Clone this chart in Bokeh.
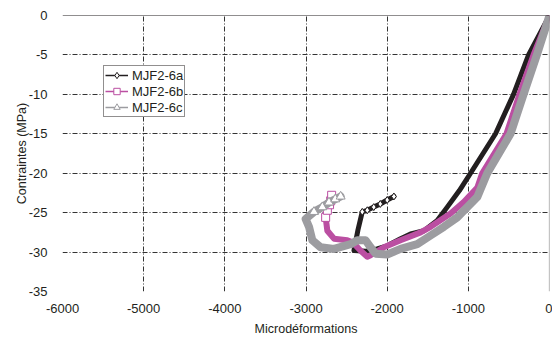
from bokeh.plotting import figure
from bokeh.models import FixedTicker, Span, Legend, LegendItem, Range1d
from bokeh.embed import file_html
from bokeh.resources import INLINE

# ---- data ----
x_ticks = [-6000, -5000, -4000, -3000, -2000, -1000, 0]
x_tick_labels = ["-6000", "-5000", "-4000", "-3000", "-2000", "-1000", "0"]
y_ticks = [-35, -30, -25, -20, -15, -10, -5, 0]
y_tick_labels = ["-35", "-30", "-25", "-20", "-15", "-10", "-5", "0"]

names = ["MJF2-6a", "MJF2-6b", "MJF2-6c"]

strain_a = [0, -258, -443, -665, -973, -1110, -1260, -1383, -1547, -1712, -1835, -2000,
            -2124, -2260, -2409, -2360, -2307, -2245, -2165, -2085, -2000, -1917]
stress_a = [0, -5, -10, -15, -20, -22.2, -24.3, -26.0, -27.3, -27.7, -28.3, -29.2,
            -29.6, -29.9, -29.8, -27.2, -24.9, -24.7, -24.3, -23.9, -23.4, -22.95]

strain_b = [0, -197, -370, -530, -829, -889, -1050, -1219, -1465, -1588, -1835, -2040,
            -2204, -2245, -2330, -2420, -2491, -2655, -2737, -2758, -2737, -2710, -2696, -2684]
stress_b = [0, -5, -10, -15, -20, -21.8, -23.6, -25.1, -26.8, -27.5, -28.5, -29.4,
            -30.4, -30.6, -29.8, -28.8, -28.5, -28.3, -27.3, -25.6, -24.7, -24.0, -23.5, -22.8]

strain_c = [0, -156, -320, -480, -767, -889, -1137, -1301, -1465, -1629, -1835, -2000,
            -2143, -2204, -2266, -2368, -2450, -2655, -2819, -2922, -2963, -3005,
            -2902, -2799, -2717, -2640, -2573]
stress_c = [0, -5, -10, -15, -20, -23.0, -25.6, -26.8, -27.9, -29.0, -29.6, -30.3,
            -30.2, -29.4, -28.5, -28.5, -29.0, -29.6, -29.4, -28.5, -26.8, -25.8,
            -24.9, -24.3, -23.7, -23.3, -22.95]

# number of final points drawn with open markers
tail_a = 6
tail_b = 5
tail_c = 5

black = "#231f20"
magenta = "#bb4fa2"
gray = "#9c9ca0"
font = "Liberation Sans"

p = figure(width=552, height=340, output_backend="svg", toolbar_location=None,
           x_range=Range1d(-6000, 0), y_range=Range1d(-35, 0),
           min_border_left=62, min_border_right=3, min_border_top=15, min_border_bottom=49)
p.outline_line_color = None
p.background_fill_color = "white"
p.border_fill_color = "white"

for ax in (p.xaxis[0], p.yaxis[0]):
    ax.axis_line_color = None
    ax.major_tick_line_color = None
    ax.minor_tick_line_color = None
    ax.major_label_text_font = font
    ax.major_label_text_font_size = "13px"
    ax.major_label_text_color = black
    ax.axis_label_text_font = font
    ax.axis_label_text_font_size = "12.5px"
    ax.axis_label_text_font_style = "normal"
    ax.axis_label_text_color = black

p.xaxis.ticker = FixedTicker(ticks=x_ticks)
p.yaxis.ticker = FixedTicker(ticks=y_ticks)
p.xaxis.major_label_overrides = {t: l for t, l in zip(x_ticks, x_tick_labels)}
p.yaxis.major_label_overrides = {t: l for t, l in zip(y_ticks, y_tick_labels)}
p.xaxis.axis_label = "Microdéformations"
p.yaxis.axis_label = "Contraintes (MPa)"
p.xaxis.major_label_standoff = 6
p.xaxis.axis_label_standoff = 6
p.yaxis.major_label_standoff = 9
p.yaxis.axis_label_standoff = -3

for g in (p.xgrid[0], p.ygrid[0]):
    g.grid_line_color = "#333333"
    g.grid_line_width = 1
    g.grid_line_dash = "5 2 1 2"

p.add_layout(Span(location=0, dimension="width", line_color=black, line_width=1.2))
p.add_layout(Span(location=0, dimension="height", line_color="#8a8a8a", line_width=1.2))

items = []
series = [
    (strain_a, stress_a, black, 5, "diamond", 7, tail_a),
    (strain_b, stress_b, magenta, 6, "square", 8, tail_b),
    (strain_c, stress_c, gray, 8, "triangle", 9, tail_c),
]
for (xs, ys, col, lw, mk, ms, tail), name in zip(series, names):
    p.line(xs, ys, line_color=col, line_width=lw, line_join="round", line_cap="round")
    thin = p.line(xs, ys, line_color=col, line_width=1.5)
    mr = p.scatter(xs[-tail:], ys[-tail:], marker=mk, size=ms, line_color=col,
                   fill_color="white", line_width=1)
    items.append(LegendItem(label=name, renderers=[thin, mr]))

legend = Legend(items=items, location=(41, 174))
legend.label_text_font = font
legend.label_text_font_size = "13px"
legend.label_text_color = black
legend.label_height = 16
legend.glyph_height = 16
legend.glyph_width = 23
legend.label_standoff = 4
legend.spacing = 0
legend.padding = 1
legend.margin = 0
legend.border_line_color = black
legend.border_line_width = 1
legend.background_fill_color = "white"
legend.background_fill_alpha = 1
p.add_layout(legend, "center")

open("out.html", "w").write(file_html(p, INLINE))
